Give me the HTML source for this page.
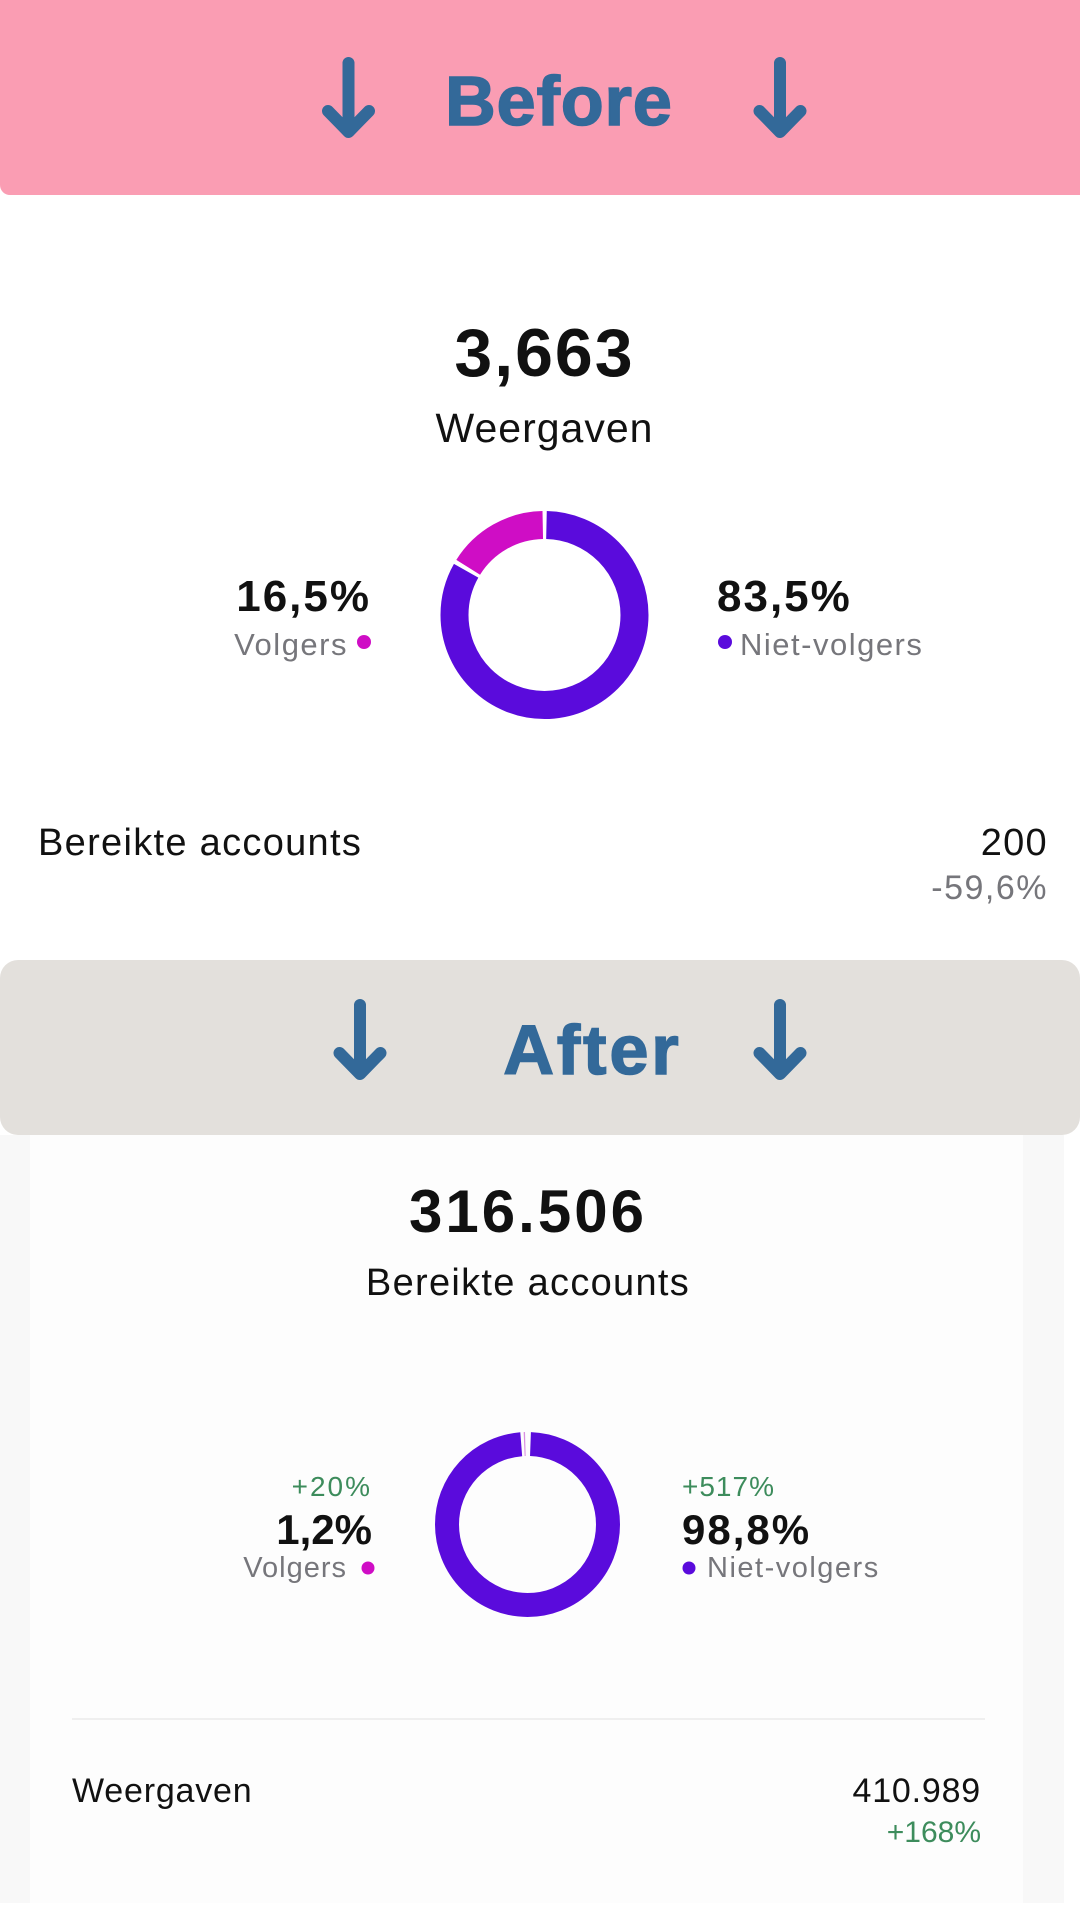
<!DOCTYPE html>
<html>
<head>
<meta charset="utf-8">
<style>
  html, body { margin:0; padding:0; }
  body { width:1080px; height:1920px; position:relative; background:#ffffff; overflow:hidden;
         font-family:"Liberation Sans", Arial, sans-serif; }
  .abs { position:absolute; white-space:nowrap; line-height:1; }
  .band-before { position:absolute; left:0; top:0; width:1080px; height:195px; background:#fa9db3;
                 border-bottom-left-radius:10px; }
  .band-after { position:absolute; left:0; top:960px; width:1080px; height:175px; background:#e3e0dc;
                border-radius:18px; }
  .hdr { font-weight:bold; color:#336999; font-size:70px; -webkit-text-stroke:1.6px #336999; }
  .big { font-weight:bold; color:#111; }
  .blk { color:#111; }
  .gray { color:#76767b; }
  .green { color:#3d8c5c; }
  .card { position:absolute; left:0; top:1135px; width:1064px; height:768px; background:#f8f8f8; }
  .card-in { position:absolute; left:30px; top:1135px; width:993px; height:768px; background:#fdfdfd; }
</style>
</head>
<body>

<div class="band-before"></div>
<div class="card"></div>
<div class="card-in"></div>
<div class="band-after"></div>

<svg class="abs" style="left:0;top:0" width="1080" height="1920" viewBox="0 0 1080 1920">
  <g stroke="#336999" stroke-width="12" stroke-linecap="round" stroke-linejoin="round" fill="none">
    <path d="M348.5 63 L348.5 130 M328 111 L348.5 132 L369 111"/>
    <path d="M780 63 L780 130 M759.5 111 L780 132 L800.5 111"/>
    <path d="M360 1005 L360 1072 M339.5 1053 L360 1074 L380.5 1053"/>
    <path d="M780 1005 L780 1072 M759.5 1053 L780 1074 L800.5 1053"/>
  </g>

  <g transform="rotate(-90 544.5 615)" fill="none" stroke-width="28">
    <circle cx="544.5" cy="615" r="90" stroke="#5a0bdc" stroke-dasharray="468.2 600" stroke-dashoffset="-2"/>
    <circle cx="544.5" cy="615" r="90" stroke="#cf0dc5" stroke-dasharray="89.3 600" stroke-dashoffset="-474.2"/>
  </g>

  <g transform="rotate(-90 527.5 1524.5)" fill="none" stroke-width="24">
    <circle cx="527.5" cy="1524.5" r="80.5" stroke="#5a0bdc" stroke-dasharray="496.3 600" stroke-dashoffset="-3"/>
    <circle cx="527.5" cy="1524.5" r="80.5" stroke="#d98ee0" stroke-dasharray="1.2 600" stroke-dashoffset="-502.2"/>
  </g>

  <circle cx="364" cy="642" r="7" fill="#cf0dc5"/>
  <circle cx="725" cy="642" r="7" fill="#5a0bdc"/>
  <circle cx="368" cy="1568" r="6.5" fill="#cf0dc5"/>
  <circle cx="689" cy="1568" r="6.5" fill="#5a0bdc"/>

  <rect x="72" y="1718" width="913" height="2" fill="#efefef"/>
</svg>

<div class="abs hdr" style="left:0;width:1118px;text-align:center;top:66px;letter-spacing:1px;">Before</div>
<div class="abs hdr" style="left:0;width:1185px;text-align:center;top:1015px;letter-spacing:3px;">After</div>

<div class="abs big" style="left:0;width:1089px;text-align:center;top:319px;font-size:68px;letter-spacing:2px;">3,663</div>
<div class="abs blk" style="left:0;width:1089px;text-align:center;top:408px;font-size:41px;letter-spacing:1px;">Weergaven</div>

<div class="abs big" style="right:709px;top:575px;font-size:44px;letter-spacing:2px;">16,5%</div>
<div class="abs gray" style="right:732px;top:629px;font-size:31px;letter-spacing:1.5px;">Volgers</div>

<div class="abs big" style="left:717px;top:575px;font-size:44px;letter-spacing:2px;">83,5%</div>
<div class="abs gray" style="left:740px;top:629px;font-size:31px;letter-spacing:1.5px;">Niet-volgers</div>

<div class="abs blk" style="left:38px;top:823.5px;font-size:38px;letter-spacing:1.3px;">Bereikte accounts</div>
<div class="abs blk" style="right:32px;top:823.5px;font-size:38px;letter-spacing:1.3px;">200</div>
<div class="abs gray" style="right:32px;top:871px;font-size:34px;letter-spacing:1.5px;">-59,6%</div>

<div class="abs big" style="left:0;width:1056px;text-align:center;top:1182px;font-size:60px;letter-spacing:3px;">316.506</div>
<div class="abs blk" style="left:0;width:1056px;text-align:center;top:1263.5px;font-size:38px;letter-spacing:1.3px;">Bereikte accounts</div>

<div class="abs green" style="right:708px;top:1472.7px;font-size:28px;letter-spacing:2px;">+20%</div>
<div class="abs big" style="right:708px;top:1509px;font-size:42px;">1,2%</div>
<div class="abs gray" style="right:733px;top:1553.6px;font-size:29px;letter-spacing:1px;">Volgers</div>

<div class="abs green" style="left:682px;top:1472.7px;font-size:28px;letter-spacing:1px;">+517%</div>
<div class="abs big" style="left:682px;top:1509px;font-size:42px;letter-spacing:2px;">98,8%</div>
<div class="abs gray" style="left:707px;top:1553.6px;font-size:29px;letter-spacing:1.5px;">Niet-volgers</div>

<div class="abs blk" style="left:72px;top:1774px;font-size:34px;letter-spacing:0.8px;">Weergaven</div>
<div class="abs blk" style="right:99px;top:1774px;font-size:34px;letter-spacing:0.8px;">410.989</div>
<div class="abs green" style="right:99px;top:1817.5px;font-size:30px;">+168%</div>

</body>
</html>
